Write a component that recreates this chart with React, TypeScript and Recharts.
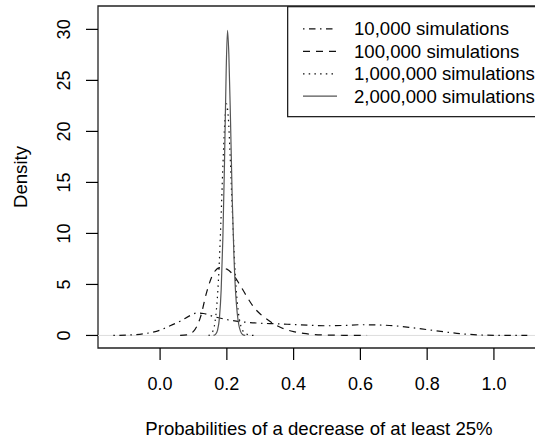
import React from 'react';
import { LineChart, Line, XAxis, YAxis, Legend, ReferenceArea, ReferenceLine, Label } from 'recharts';

// ---- data ----
const x10k = [-0.14, -0.1, -0.05, 0.0, 0.03, 0.06, 0.09, 0.11, 0.13, 0.16, 0.2, 0.25, 0.3, 0.35, 0.4, 0.45, 0.5, 0.55, 0.6, 0.65, 0.7, 0.75, 0.8, 0.85, 0.9, 0.95, 1.0, 1.05, 1.1];
const y10k = [0, 0.03, 0.16, 0.52, 0.95, 1.4, 1.95, 2.2, 2.15, 1.86, 1.55, 1.32, 1.2, 1.14, 1.07, 1.0, 0.95, 0.98, 1.05, 1.03, 0.95, 0.78, 0.57, 0.36, 0.17, 0.06, 0.015, 0.003, 0];

const x100k = [0.06, 0.08, 0.1, 0.12, 0.14, 0.16, 0.18, 0.2, 0.22, 0.24, 0.26, 0.28, 0.3, 0.32, 0.34, 0.36, 0.38, 0.4, 0.43, 0.46, 0.5, 0.55, 0.62];
const y100k = [0, 0.06, 0.4, 1.7, 4.3, 6.1, 6.65, 6.5, 5.9, 4.9, 3.8, 2.8, 2.1, 1.6, 1.15, 0.8, 0.55, 0.38, 0.2, 0.09, 0.04, 0.015, 0];

const x1m = [0.145, 0.152, 0.158, 0.164, 0.17, 0.176, 0.182, 0.188, 0.194, 0.199, 0.204, 0.21, 0.216, 0.222, 0.228, 0.234, 0.24, 0.248, 0.258, 0.268, 0.28];
const y1m = [0, 0.1, 0.4, 1.2, 3.0, 6.2, 11, 16.5, 21, 22.7, 21.5, 17.5, 12.5, 8, 4.5, 2.4, 1.2, 0.45, 0.15, 0.04, 0];

const x2m = [0.16, 0.166, 0.172, 0.178, 0.183, 0.188, 0.193, 0.198, 0.202, 0.206, 0.211, 0.216, 0.221, 0.226, 0.231, 0.236, 0.241, 0.247, 0.255];
const y2m = [0, 0.1, 0.5, 1.8, 4.5, 9.5, 17, 26, 29.9, 27.5, 21, 13.5, 8, 4.3, 2.2, 1.0, 0.4, 0.1, 0];

const seriesNames = ['10,000 simulations', '100,000 simulations', '1,000,000 simulations', '2,000,000 simulations'];
const xTicks = [0, 0.2, 0.4, 0.6, 0.8, 1.0];
const yTicks = [0, 5, 10, 15, 20, 25, 30];
const xLabel = 'Probabilities of a decrease of at least 25%';
const yLabel = 'Density';

// ---- styling ----
const FONT = '"Liberation Sans", Arial, Helvetica, sans-serif';
const X_DOMAIN: [number, number] = [-0.186, 1.15];
const Y_DOMAIN: [number, number] = [-1.23, 32.29];
const dashes = ['1.5 4.5 6.5 4.5', '7 6', '1.5 4.2', undefined];
const colors = ['#111', '#111', '#111', '#555'];

const zip = (xs: number[], ys: number[]) => xs.map((x, i) => ({ x, y: ys[i] }));
const seriesData = [zip(x10k, y10k), zip(x100k, y100k), zip(x1m, y1m), zip(x2m, y2m)];

const XTick = (props: any) => {
  const { x, y, payload } = props;
  return (
    <text x={x} y={y + 22} textAnchor="middle" dominantBaseline="central" fontFamily={FONT} fontSize={18} fill="#000">
      {Number(payload.value).toFixed(1)}
    </text>
  );
};

const YTick = (props: any) => {
  const { y, payload } = props;
  const cx = 64.5;
  return (
    <text x={cx} y={y} transform={`rotate(-90, ${cx}, ${y})`} textAnchor="middle" dominantBaseline="central" fontFamily={FONT} fontSize={18} fill="#000">
      {payload.value}
    </text>
  );
};

const LegendBox = () => {
  const rows = [22.8, 45.3, 67.8, 90.2];
  return (
    <svg width={270} height={112} style={{ display: 'block' }}>
      <rect x={0.65} y={0.65} width={257} height={110} fill="#fff" stroke="#222" strokeWidth={1.3} />
      {seriesNames.map((name, i) => (
        <g key={name}>
          <line x1={16} x2={50} y1={rows[i]} y2={rows[i]} stroke={colors[i]} strokeWidth={1.2} strokeDasharray={dashes[i]} />
          <text x={67} y={rows[i]} dominantBaseline="central" fontFamily={FONT} fontSize={18.6} fill="#000">{name}</text>
        </g>
      ))}
    </svg>
  );
};

export default function App() {
  return (
    <div style={{ position: 'absolute', left: 0, top: 0, width: 535, height: 442, overflow: 'hidden', background: '#fff' }}>
      <LineChart width={550} height={442} margin={{ top: 6, right: 6, bottom: 0, left: 0 }}>
        <XAxis
          dataKey="x"
          type="number"
          domain={X_DOMAIN}
          ticks={xTicks}
          allowDataOverflow
          axisLine={false}
          tickLine={{ stroke: '#000', strokeWidth: 1.2 }}
          tickSize={12}
          height={94}
          tick={<XTick />}
        >
          <Label
            content={(p: any) => {
              const vb = p.viewBox || { x: 98, y: 348, width: 446, height: 94 };
              return (
                <text x={319} y={vb.y + 80} textAnchor="middle" dominantBaseline="central" fontFamily={FONT} fontSize={18.6} fill="#000">
                  {xLabel}
                </text>
              );
            }}
          />
        </XAxis>
        <YAxis
          type="number"
          domain={Y_DOMAIN}
          ticks={yTicks}
          allowDataOverflow
          axisLine={false}
          tickLine={{ stroke: '#000', strokeWidth: 1.2 }}
          tickSize={12}
          width={98}
          tick={<YTick />}
        >
          <Label
            content={() => (
              <text x={20.5} y={177} transform="rotate(-90, 20.5, 177)" textAnchor="middle" dominantBaseline="central" fontFamily={FONT} fontSize={18.6} fill="#000">
                {yLabel}
              </text>
            )}
          />
        </YAxis>
        <ReferenceLine y={0} stroke="#dddddd" strokeWidth={1} ifOverflow="hidden" />
        <ReferenceArea x1={X_DOMAIN[0]} x2={X_DOMAIN[1]} y1={Y_DOMAIN[0]} y2={Y_DOMAIN[1]} fill="none" stroke="#222" strokeWidth={1.3} ifOverflow="visible" />
        {seriesData.map((d, i) => (
          <Line
            key={seriesNames[i]}
            data={d}
            dataKey="y"
            name={seriesNames[i]}
            type="monotone"
            stroke={colors[i]}
            strokeWidth={1.2}
            strokeDasharray={dashes[i]}
            dot={false}
            activeDot={false}
            isAnimationActive={false}
          />
        ))}
        <Legend
          layout="vertical"
          align="center"
          verticalAlign="middle"
          content={<LegendBox />}
          wrapperStyle={{ position: 'absolute', left: 287, top: 6, width: 270, height: 112 }}
        />
      </LineChart>
    </div>
  );
}
